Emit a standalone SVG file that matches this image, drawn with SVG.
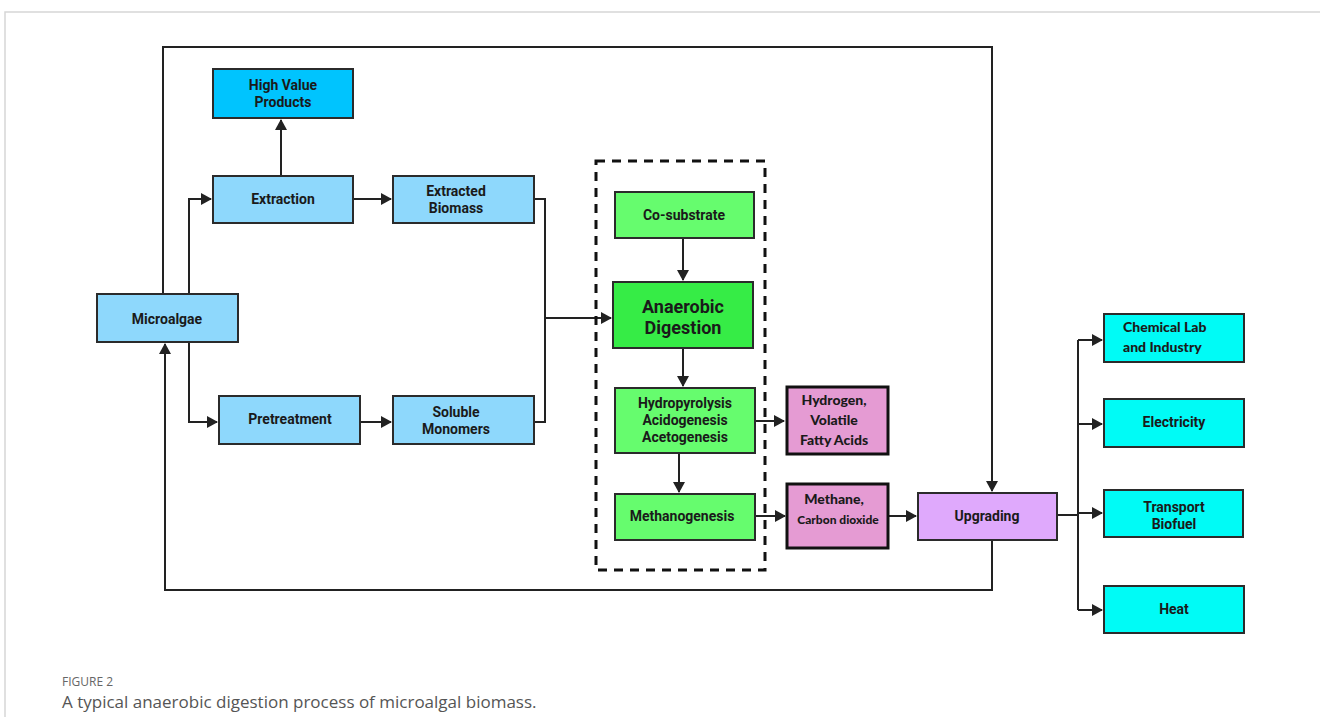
<svg xmlns="http://www.w3.org/2000/svg" width="1320" height="717" viewBox="0 0 1320 717">
<style>
.box{stroke:#2b2b2b;stroke-width:2}
.lb{fill:#8ed8fc}
.hv{fill:#00c4fe}
.gr{fill:#66fc6e}
.ad{fill:#36ec46}
.pk{fill:#e59bd3;stroke:#111;stroke-width:3}
.up{fill:#dfa9fc}
.cy{fill:#00fbf6}
.t{font-family:Roboto,"Liberation Sans",sans-serif;font-weight:bold;font-size:14px;fill:#1a1a1a;text-anchor:middle}
.c{font-family:Lato,"Open Sans","Liberation Sans",sans-serif;font-weight:900;font-size:14px;fill:#1a1a1a;text-anchor:middle}
.ln{fill:none;stroke:#222;stroke-width:2}
</style>
<defs>
<marker id="ah" markerWidth="12" markerHeight="12" refX="10" refY="6" orient="auto" markerUnits="userSpaceOnUse">
<path d="M0,0 L11,6 L0,12 Z" fill="#222"/>
</marker>
</defs>
<rect x="0" y="0" width="1320" height="717" fill="#fff"/>
<path d="M5,717 V12 H1320" fill="none" stroke="#d6d6d6" stroke-width="1.5"/>

<g id="connectors">
<path class="ln" d="M163,294 V47 H992 V491" marker-end="url(#ah)"/>
<path class="ln" d="M992,540 V590 H165 V344" marker-end="url(#ah)"/>
<path class="ln" d="M189,294 V199 H211" marker-end="url(#ah)"/>
<path class="ln" d="M189,342 V422 H217" marker-end="url(#ah)"/>
<path class="ln" d="M281,176 V120" marker-end="url(#ah)"/>
<path class="ln" d="M353,199 H391" marker-end="url(#ah)"/>
<path class="ln" d="M360,422 H391" marker-end="url(#ah)"/>
<path class="ln" d="M534,199 H545 V422 H534"/>
<path class="ln" d="M545,318 H611" marker-end="url(#ah)"/>
<path class="ln" d="M683,238 V280" marker-end="url(#ah)"/>
<path class="ln" d="M683,348 V386" marker-end="url(#ah)"/>
<path class="ln" d="M679,453 V492" marker-end="url(#ah)"/>
<path class="ln" d="M755,421 H784" marker-end="url(#ah)"/>
<path class="ln" d="M755,516 H785" marker-end="url(#ah)"/>
<path class="ln" d="M889,516 H916" marker-end="url(#ah)"/>
<path class="ln" d="M1057,515 H1078"/>
<path class="ln" d="M1078,340 V610"/>
<path class="ln" d="M1078,340 H1102" marker-end="url(#ah)"/>
<path class="ln" d="M1078,424 H1102" marker-end="url(#ah)"/>
<path class="ln" d="M1078,513 H1102" marker-end="url(#ah)"/>
<path class="ln" d="M1078,610 H1102" marker-end="url(#ah)"/>
</g>

<g id="ad-boundary">
<rect x="596" y="161" width="169" height="409" fill="none" stroke="#111" stroke-width="3" stroke-dasharray="9 7"/>
</g>

<g id="high-value">
<rect class="box hv" x="213" y="69" width="140" height="49"/>
<text class="t" x="283" y="90">High Value</text>
<text class="t" x="283" y="107">Products</text>
</g>
<g id="extraction">
<rect class="box lb" x="213" y="176" width="140" height="47"/>
<text class="t" x="283" y="204">Extraction</text>
</g>
<g id="extracted-biomass">
<rect class="box lb" x="393" y="176" width="141" height="47"/>
<text class="t" x="456" y="196">Extracted</text>
<text class="t" x="456" y="213">Biomass</text>
</g>
<g id="microalgae">
<rect class="box lb" x="97" y="294" width="141" height="48"/>
<text class="t" x="167" y="324">Microalgae</text>
</g>
<g id="pretreatment">
<rect class="box lb" x="219" y="396" width="141" height="48"/>
<text class="t" x="290" y="424">Pretreatment</text>
</g>
<g id="soluble-monomers">
<rect class="box lb" x="393" y="396" width="141" height="48"/>
<text class="t" x="456" y="417">Soluble</text>
<text class="t" x="456" y="434">Monomers</text>
</g>
<g id="co-substrate">
<rect class="box gr" x="615" y="192" width="139" height="46"/>
<text class="t" x="684" y="220">Co-substrate</text>
</g>
<g id="anaerobic-digestion">
<rect class="box ad" x="613" y="282" width="140" height="66"/>
<text class="t" x="683" y="313" style="font-size:18px">Anaerobic</text>
<text class="t" x="683" y="334" style="font-size:18px">Digestion</text>
</g>
<g id="hydropyrolysis">
<rect class="box gr" x="615" y="388" width="140" height="65"/>
<text class="t" x="685" y="408">Hydropyrolysis</text>
<text class="t" x="685" y="425">Acidogenesis</text>
<text class="t" x="685" y="442">Acetogenesis</text>
</g>
<g id="methanogenesis">
<rect class="box gr" x="615" y="494" width="140" height="46"/>
<text class="t" x="682" y="521">Methanogenesis</text>
</g>
<g id="hydrogen-vfa">
<rect class="pk" x="787" y="387" width="101" height="67"/>
<text class="c" x="834" y="405">Hydrogen,</text>
<text class="c" x="834" y="425">Volatile</text>
<text class="c" x="834" y="445">Fatty Acids</text>
</g>
<g id="methane-co2">
<rect class="pk" x="787" y="484" width="101" height="64"/>
<text class="c" x="834" y="504">Methane,</text>
<text class="c" x="838" y="524" style="font-size:12px">Carbon dioxide</text>
</g>
<g id="upgrading">
<rect class="box up" x="918" y="493" width="139" height="47"/>
<text class="t" x="987" y="521">Upgrading</text>
</g>
<g id="chemical-lab">
<rect class="box cy" x="1104" y="314" width="140" height="48"/>
<text class="c" x="1123" y="332" style="text-anchor:start">Chemical Lab</text>
<text class="c" x="1123" y="352" style="text-anchor:start">and Industry</text>
</g>
<g id="electricity">
<rect class="box cy" x="1104" y="399" width="140" height="48"/>
<text class="t" x="1174" y="427">Electricity</text>
</g>
<g id="transport-biofuel">
<rect class="box cy" x="1104" y="490" width="139" height="47"/>
<text class="t" x="1174" y="512">Transport</text>
<text class="t" x="1174" y="529">Biofuel</text>
</g>
<g id="heat">
<rect class="box cy" x="1104" y="586" width="140" height="47"/>
<text class="t" x="1174" y="614">Heat</text>
</g>

<g id="caption">
<text x="62" y="686" font-family="'Open Sans','Liberation Sans',sans-serif" font-size="12" fill="#666">FIGURE 2</text>
<text x="62" y="708" font-family="'Open Sans','Liberation Sans',sans-serif" font-size="17" fill="#555">A typical anaerobic digestion process of microalgal biomass.</text>
</g>
</svg>
